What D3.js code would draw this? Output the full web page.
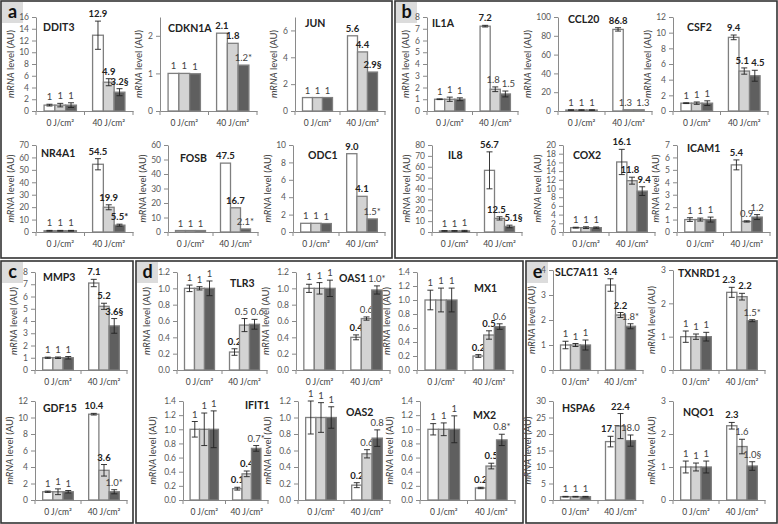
<!DOCTYPE html>
<html><head><meta charset="utf-8">
<script src="https://cdn.jsdelivr.net/npm/d3@7"></script>
<style>body{margin:0;background:#fff}svg{display:block}</style>
</head><body><svg id="chart" width="778" height="524"></svg>
<script>
// ---------- DATA ----------
const groups = ["0 J/cm²", "40 J/cm²"];
const genes = ["DDIT3","CDKN1A","JUN","IL1A","CCL20","CSF2",
               "NR4A1","FOSB","ODC1","IL8","COX2","ICAM1",
               "MMP3","TLR3","OAS1","MX1","SLC7A11","TXNRD1",
               "GDF15","IFIT1","OAS2","MX2","HSPA6","NQO1"];
const ctrlMeans = [[1,1,1],[1,1,0.99],[1,1,1],[1,1,1],[1,1,1],[1,1,1],
                   [1,1,1],[1,1,1],[1,1,0.97],[1,1,1],[1,1,1],[1,1,1],
                   [1,1,1],[1,1,1],[1,1,1],[1,1,1],[1,1,1],[1,1,1],
                   [1,1,1],[1,1,1],[1,1,1],[1,1,1],[1,1,1],[1,1,1]];
const ctrlErrs = [[0.15,0.3,0.4],[0,0,0],[0,0,0],[0.03,0.18,0.12],[0.3,0.3,0.3],[0.05,0.15,0.3],
                  [0.3,0.3,0.3],[0,0,0],[0,0,0],[0.3,0.3,0.5],[0.1,0.2,0.15],[0.15,0.12,0.2],
                  [0.05,0.06,0.1],[0.04,0.02,0.09],[0.05,0.07,0.1],[0.14,0.17,0.17],[0.15,0.06,0.2],[0.17,0.08,0.13],
                  [0.08,0.35,0.15],[0.11,0.23,0.26],[0.2,0.18,0.13],[0.08,0.09,0.19],[0.1,0.1,0.1],[0.18,0.12,0.18]];
const irrMeans = [[12.9,4.9,3.2],[2.07,1.8,1.22],[5.6,4.4,2.9],[7.22,1.85,1.45],[86.8,1.3,1.3],[9.4,5.1,4.5],
                  [54.5,19.9,5.5],[47.5,16.7,2.1],[9.0,4.1,1.5],[56.7,12.5,5.1],[16.1,11.8,9.4],[5.4,0.85,1.2],
                  [7.1,5.2,3.6],[0.22,0.55,0.56],[0.4,0.63,0.98],[0.2,0.5,0.62],[3.4,2.2,1.75],[2.33,2.2,1.48],
                  [10.4,3.6,1.0],[0.16,0.37,0.73],[0.18,0.56,0.75],[0.17,0.48,0.85],[17.7,22.4,18.0],[2.25,1.62,1.03]];
const irrErrs = [[2.4,0.6,0.6],[0,0,0],[0,0,0],[0.07,0.2,0.25],[1.8,0,0],[0.3,0.4,0.7],
                 [4.5,2,0.8],[0,0,0],[0,0,0],[17,1.5,1.2],[2.9,0.8,1.0],[0.4,0.05,0.2],
                 [0.3,0.25,0.6],[0.04,0.08,0.06],[0.03,0.02,0.05],[0.02,0.06,0.04],[0.25,0.1,0.1],[0.15,0.1,0.03],
                 [0.1,0.7,0.25],[0.02,0.04,0.04],[0.03,0.05,0.1],[0.01,0.04,0.08],[1.6,3.8,1.7],[0.1,0.22,0.13]];
const irrLabels = [["12.9","4.9","3.2§"],["2.1","1.8","1.2*"],["5.6","4.4","2.9§"],["7.2","1.8","1.5"],["86.8","1.3","1.3"],["9.4","5.1","4.5"],
                   ["54.5","19.9","5.5*"],["47.5","16.7","2.1*"],["9.0","4.1","1.5*"],["56.7","12.5","5.1§"],["16.1","11.8","9.4"],["5.4","0.9","1.2"],
                   ["7.1","5.2","3.6§"],["0.2","0.5","0.6"],["0.4","0.6","1.0*"],["0.2","0.5","0.6"],["3.4","2.2","1.8*"],["2.3","2.2","1.5*"],
                   ["10.4","3.6","1.0*"],["0.1","0.4","0.7*"],["0.2","0.6","0.8"],["0.2","0.5","0.8*"],["17.7","22.4","18.0"],["2.3","1.6","1.0§"]];
const ctrlLabels = ["1","1","1"];
const irrBold = [[1,1,1],[1,1,0],[1,1,1],[1,0,0],[1,0,0],[1,1,1],
                 [1,1,1],[1,1,0],[1,1,0],[1,1,1],[1,1,1],[1,0,0],
                 [1,1,1],[1,0,0],[1,0,0],[1,1,0],[1,1,0],[1,1,0],
                 [1,1,0],[1,1,0],[1,0,0],[1,1,0],[1,1,0],[1,0,0]];
const yMax  = [16,2.5,7,8,100,12, 70,60,10,80,20,7, 8,1.2,1.2,1.4,4,3, 12,1.4,1.2,1.4,30,3];
const yStep = [2,1,2,1,20,2, 10,10,2,10,2,1, 1,0.2,0.2,0.2,1,1, 2,0.2,0.2,0.2,5,1];
const yDecimals = [0,0,0,0,0,0, 0,0,0,0,0,0, 0,1,1,1,0,0, 0,1,1,1,0,0];
const panelLetters = ["a","b","c","d","e"];

// ---------- LAYOUT ----------
// [axisX, width, topY, baseY, titleDx, titleDy]
const layout = [
  [36,97,17,111,7,10],[160,97,17,111,8,11],[295,90,17,111,10,6],
  [427,91,17,111,5,6],[558,94,17,111,10,2],[673,95,17,111,14,10],
  [36,97,145,232,5,8],[168,90,145,232,12,13],[293,92,145,232,15,10],
  [432,90,145,232,16,10],[563,92,145,232,10,10],[677,93,145,232,10,3],
  [35,92,272,370,8,5],[177,90,272,370,53,11],[296,94,272,370,43,6],
  [417,96,272,370,57,16],[553,90,270,370,2,2],[673,92,270,370,5,3],
  [35,92,401,500,8,7],[183,85,401,500,62,4],[298,92,401,500,48,11],
  [420,95,401,500,53,14],[553,90,401,500,9,7],[673,92,401,500,10,11]
];
// horizontal nudges (px) of the 40 J/cm² value labels where they would collide
const labelNudge = {3:[0,-2,3], 4:[0,-3,4], 5:[0,-2,3], 9:[0,-3,4], 10:[0,-2,2], 13:[0,-3,3], 17:[-3,3,0]};
const panelFrames = [[1,1,391,257],[395,1,382,257],[1,261,132,262],[136,261,387,262],[526,261,251,262]];

const FONT = "Lato, 'Open Sans', 'Liberation Sans', sans-serif";
const barFill = ["#ffffff","#d3d3d3","#5f5f5f"];
const svg = d3.select("#chart").style("font-family", FONT);

// panels
panelFrames.forEach((p,k)=>{
  svg.append("rect").attr("x",p[0]).attr("y",p[1]).attr("width",p[2]).attr("height",p[3])
    .attr("fill","none").attr("stroke","#333").attr("stroke-width",1.6);
  svg.append("rect").attr("x",p[0]+1).attr("y",p[1]+1).attr("width",21).attr("height",21).attr("fill","#dcdcdc");
  svg.append("text").attr("x",p[0]+11.5).attr("y",p[1]+17).attr("text-anchor","middle")
    .attr("font-size",18).attr("font-weight","bold").attr("fill","#111").text(panelLetters[k]);
});

genes.forEach((gene,i)=>{
  const [ax,w,top,base,tdx,tdy] = layout[i];
  const g = svg.append("g");
  const y = d3.scaleLinear().domain([0,yMax[i]]).range([base,top]);
  const x0 = d3.scaleBand().domain(groups).range([ax,ax+w]);
  const x1 = d3.scaleBand().domain([0,1,2]).range([0,x0.bandwidth()]).paddingOuter(0.75);
  const ticks = d3.range(0, yMax[i]+1e-9, yStep[i]);
  const fmt = yDecimals[i] ? d3.format(".1f") : d3.format("d");

  // y axis
  const ya = g.append("g").attr("transform",`translate(${ax},0)`)
    .call(d3.axisLeft(y).tickValues(ticks).tickFormat(fmt).tickSize(4).tickSizeOuter(0).tickPadding(3));
  ya.select(".domain").attr("stroke","#8a8a8a");
  ya.selectAll(".tick line").attr("stroke","#8a8a8a");
  ya.selectAll("text").attr("fill","#595959").attr("font-size",8.5).attr("font-family",FONT);

  // x axis
  const xa = g.append("g").attr("transform",`translate(0,${base})`)
    .call(d3.axisBottom(x0).tickSize(0).tickSizeOuter(0).tickPadding(9));
  xa.select(".domain").attr("stroke","#8a8a8a");
  xa.selectAll("text").attr("fill","#404040").attr("font-size",8.5).attr("font-family",FONT);
  const bounds = groups.map(d=>x0(d)).concat([ax+w]);
  g.selectAll(".xb").data(bounds).join("line")
    .attr("x1",d=>d).attr("x2",d=>d).attr("y1",base).attr("y2",base+4).attr("stroke","#8a8a8a");

  // y title
  const maxChars = d3.max(ticks.map(t=>fmt(t).length));
  const tx = ax - 13 - 4.6*maxChars;
  const yt = g.append("text").attr("transform",`translate(${tx},${(top+base)/2}) rotate(-90)`)
    .attr("text-anchor","middle").attr("font-size",9.5).attr("fill","#404040");
  yt.append("tspan").attr("font-style","italic").text("mRNA");
  yt.append("tspan").text(" level (AU)");

  // title
  g.append("text").attr("x",ax+tdx).attr("y",top+tdy+4).attr("font-size",10.5)
    .attr("font-weight","bold").attr("fill","#222").text(gene);

  const sets = [
    {grp:groups[0], m:ctrlMeans[i], e:ctrlErrs[i], l:ctrlLabels, b:[0,0,0], n:[0,0,0]},
    {grp:groups[1], m:irrMeans[i], e:irrErrs[i], l:irrLabels[i], b:irrBold[i], n:labelNudge[i]||[0,0,0]}
  ];
  sets.forEach(s=>{
    const gg = g.append("g").attr("transform",`translate(${x0(s.grp)},0)`);
    s.m.forEach((v,j)=>{
      const bx = x1(j), bw = x1.bandwidth(), cx = bx + bw/2;
      gg.append("rect").attr("x",bx).attr("y",y(v)).attr("width",bw).attr("height",y(0)-y(v))
        .attr("fill",barFill[j]).attr("stroke","#7f7f7f").attr("stroke-width",1.3);
      const e = s.e[j];
      if (e > 0) {
        gg.append("line").attr("x1",cx).attr("x2",cx).attr("y1",y(v-e)).attr("y2",y(v+e)).attr("stroke","#222").attr("stroke-width",0.9);
        [v-e, v+e].forEach(t=>gg.append("line").attr("x1",cx-3).attr("x2",cx+3).attr("y1",y(t)).attr("y2",y(t)).attr("stroke","#222").attr("stroke-width",0.9));
      }
      gg.append("text").attr("x",cx + s.n[j]).attr("y",y(v+e)-4).attr("text-anchor","middle")
        .attr("font-size",9.5).attr("font-weight",s.b[j]?"bold":"normal")
        .attr("fill", s.b[j] ? "#222" : "#444").text(s.l[j]);
    });
  });
});
</script></body></html>
